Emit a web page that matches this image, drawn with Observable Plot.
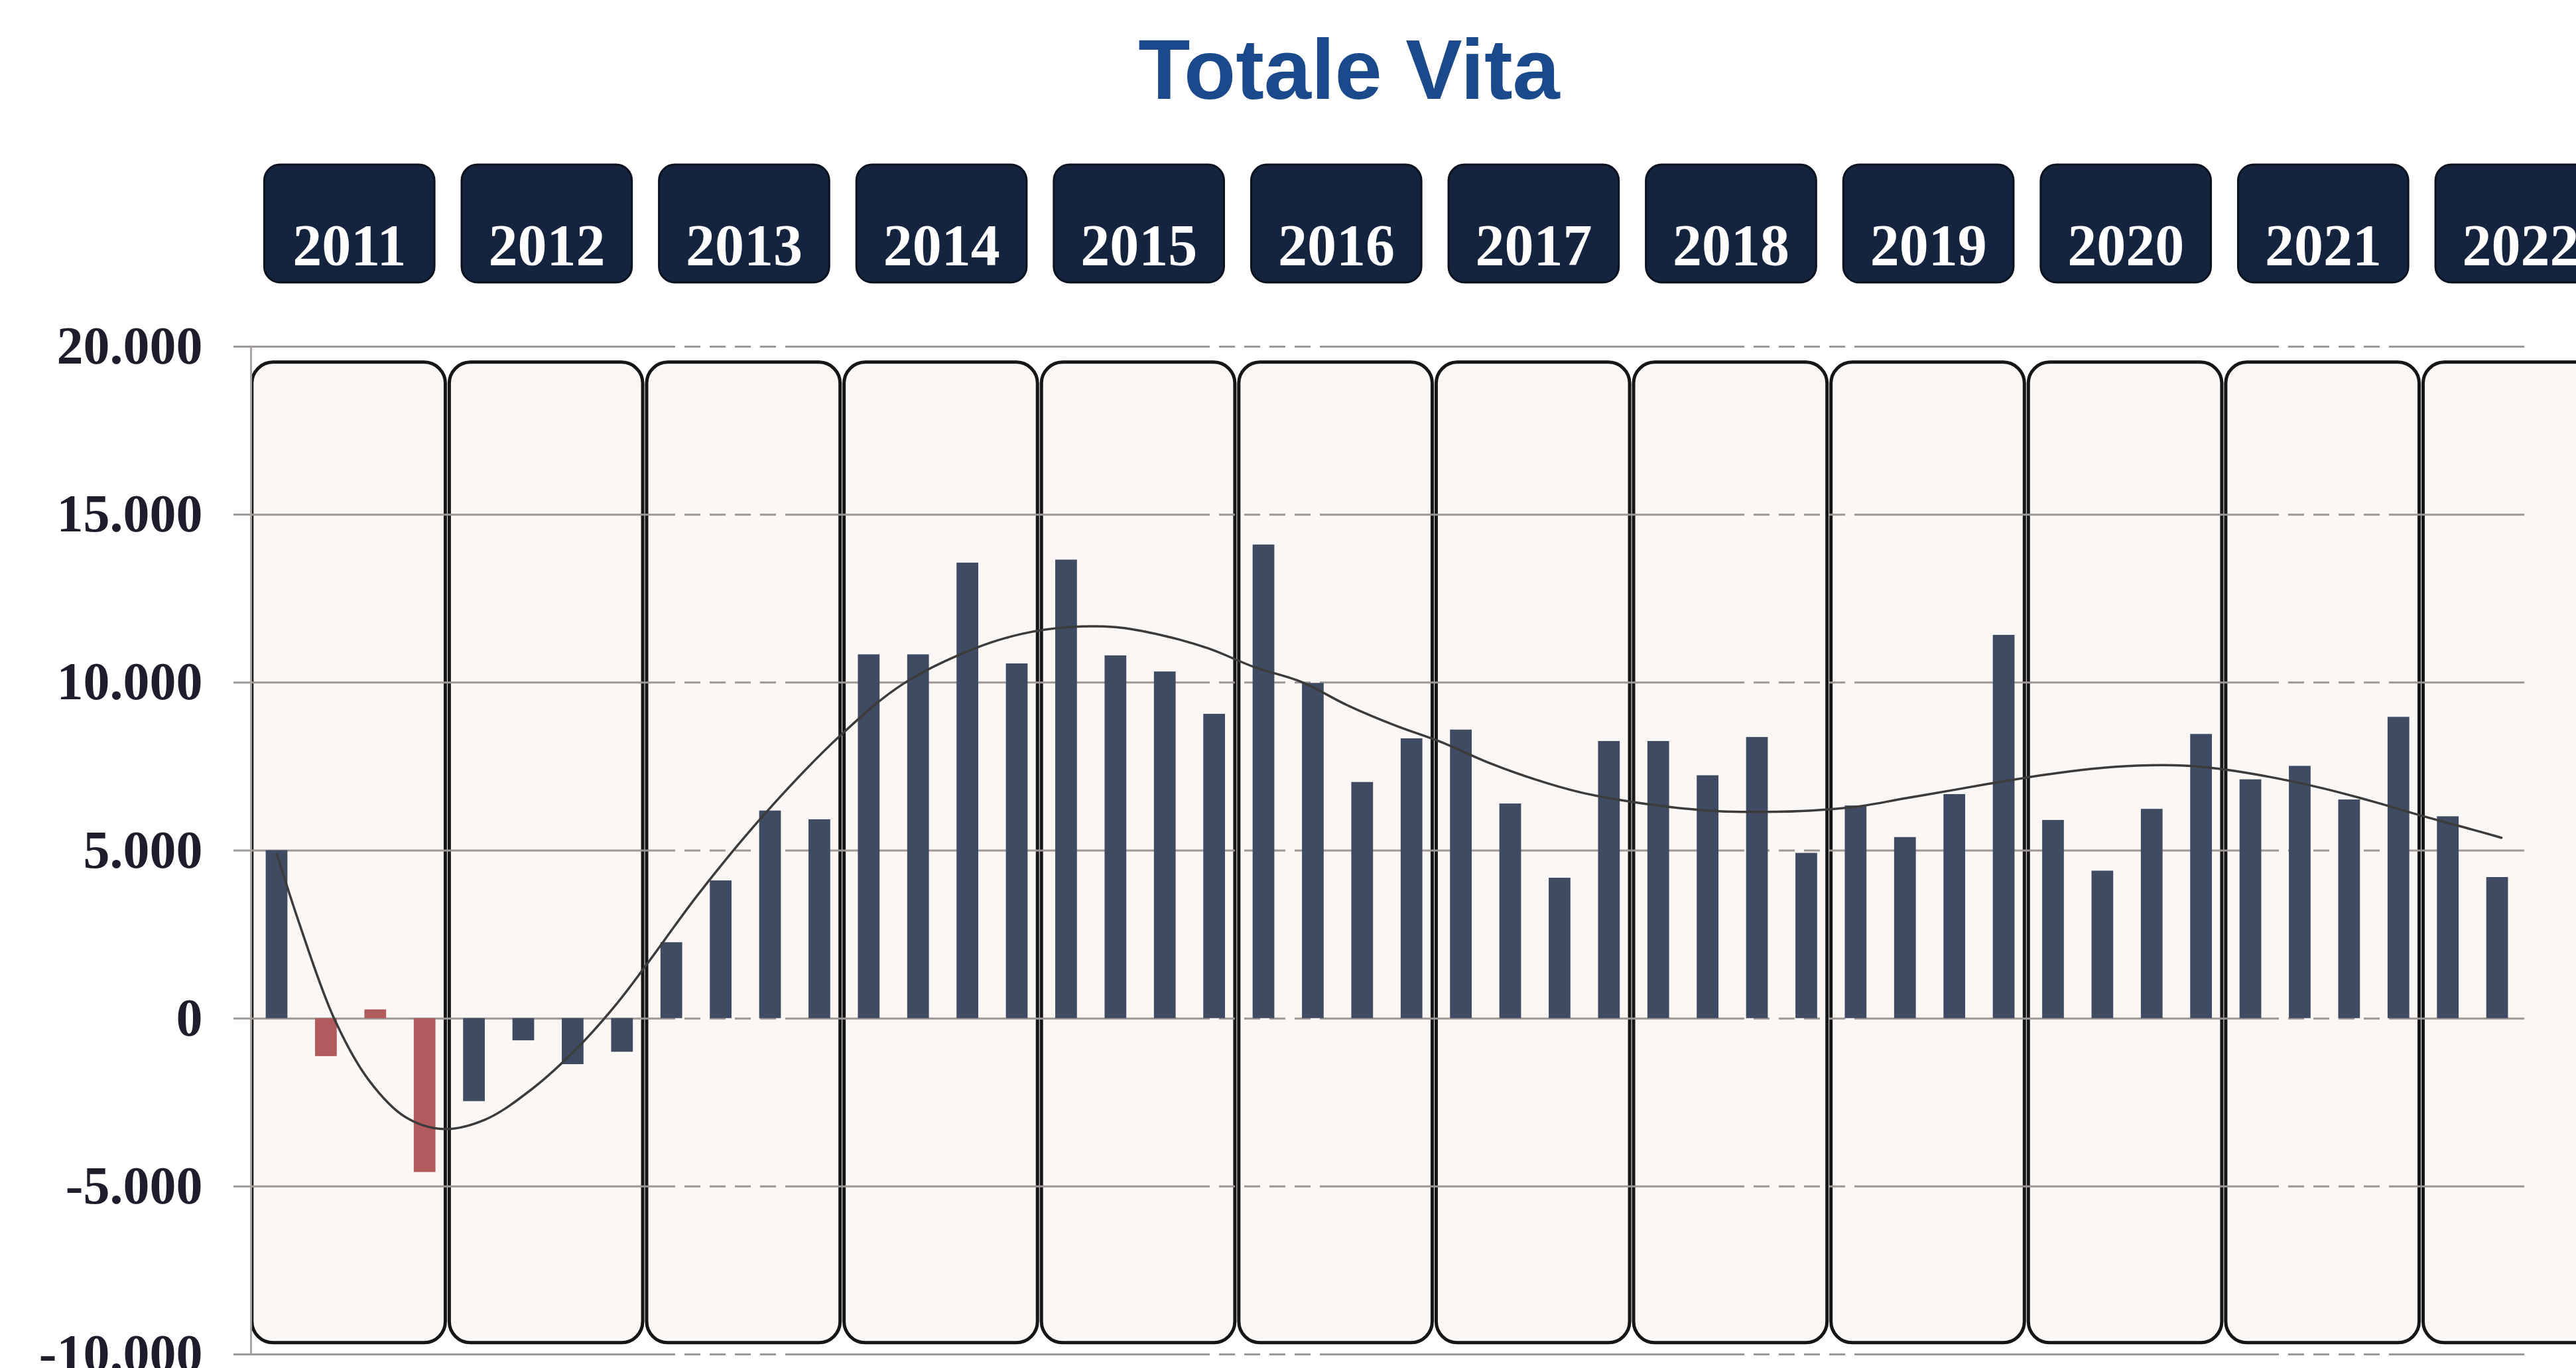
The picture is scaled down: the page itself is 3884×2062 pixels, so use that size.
<!DOCTYPE html>
<html><head><meta charset="utf-8">
<script src="https://cdn.jsdelivr.net/npm/d3@7"></script>
<script src="https://cdn.jsdelivr.net/npm/@observablehq/plot@0.6"></script>
<style>
html,body{margin:0;padding:0;background:#fff;overflow:hidden;}
#title{height:210px;line-height:210px;font-family:"Liberation Sans",Arial,sans-serif;font-weight:bold;font-size:128px;color:#1B4A8C;text-align:center;padding-left:184px;box-sizing:border-box;width:3884px;}
</style></head><body>
<div id="title">Totale Vita</div>
<div id="chart"></div>
<script>
// ---- data ----
const years = [2011, 2012, 2013, 2014, 2015, 2016, 2017, 2018, 2019, 2020, 2021, 2022];
const quarterValues = [
  5000, -1130, 260, -4580,
  -2470, -660, -1370, -1000,
  2260, 4100, 6180, 5920,
  10830, 10830, 13560, 10560,
  13650, 10800, 10320, 9060,
  14100, 9980, 7030, 8330,
  8590, 6390, 4180, 8250,
  8250, 7230, 8370, 4920,
  6330, 5390, 6670, 11410,
  5900, 4390, 6230, 8460,
  7110, 7510, 6510, 8970,
  6010, 4200
];
const redBars = ["2011-Q2", "2011-Q3", "2011-Q4"];
// trend curve: position in quarter index, value
const trendPos = [0, 0.44, 1.16, 1.86, 2.61, 3.37, 4.22, 5.16, 6.10, 6.86, 7.51, 8.55, 9.88, 11.43, 12.70, 14.15, 15.10, 16.04, 16.99, 17.93, 18.87, 19.81, 20.76, 21.70, 22.65, 23.59, 24.53, 25.47, 26.42, 27.36, 28.27, 29.21, 30.15, 31.10, 32.04, 32.98, 33.93, 34.87, 35.81, 36.76, 37.70, 38.64, 39.58, 40.53, 41.47, 42.5, 43.5, 44.5, 45.08];
const trendVal = [4900, 2890, 0, -1830, -2940, -3290, -3010, -2110, -860, 390, 1640, 3720, 6080, 8440, 9970, 11020, 11450, 11650, 11650, 11410, 11020, 10460, 10020, 9320, 8730, 8230, 7630, 7130, 6730, 6470, 6290, 6170, 6150, 6190, 6310, 6550, 6790, 7030, 7250, 7430, 7530, 7530, 7390, 7150, 6850, 6450, 6020, 5620, 5380];
const yTicks = [-10000, -5000, 0, 5000, 10000, 15000, 20000];

// ---- build tables ----
const rows = quarterValues.map((v, i) => {
  const year = years[Math.floor(i / 4)];
  const q = (i % 4) + 1;
  return {i, year, q, v, key: `${year}-Q${q}`};
});
const trend = trendPos.map((x, k) => ({x, y: trendVal[k]}));
const yearCells = years.map((year, k) => ({year, k}));

const fmt = d3.formatLocale({decimal: ",", thousands: ".", grouping: [3], currency: ["€", ""], minus: "-"}).format(",.0f");

const xDomain = [-0.524, 45.55];
const gridColor = "#9D9896";

const chart = Plot.plot({
  width: 3884,
  height: 1852,
  marginLeft: 378,
  marginRight: 78,
  marginTop: 312,
  marginBottom: 21,
  style: {background: "transparent"},
  x: {domain: xDomain, axis: null},
  y: {domain: [-10000, 20000]},
  marks: [
    // year panels
    Plot.rect(yearCells, {
      x1: d => 4 * d.k - 0.5, x2: d => 4 * d.k + 3.42,
      y1: -9660, y2: 19530,
      fill: "#FBF7F4", stroke: "#161616", strokeWidth: 5, rx: 32
    }),
    Plot.gridY(yTicks, {stroke: gridColor, strokeOpacity: 1, strokeWidth: 3,
      strokeDasharray: "640,14,24,14,24,14,24,14,24,14"}),
    Plot.axisY(yTicks, {
      tickSize: 26, tickPadding: 47, tickFormat: fmt, label: null,
      stroke: gridColor, strokeWidth: 3,
      fill: "#1d1d2b", fontSize: 80, fontWeight: "bold", fontFamily: "Liberation Serif, serif"
    }),
    Plot.ruleX([xDomain[0]], {stroke: "#A8A4A2", strokeWidth: 3}),
    Plot.rectY(rows, {
      x1: d => d.i - 0.22, x2: d => d.i + 0.22,
      y1: 0, y2: "v",
      fill: d => redBars.includes(d.key) ? "#B25B5D" : "#3F4B63"
    }),
    Plot.line(trend, {x: "x", y: "y", curve: "catmull-rom", stroke: "#3b3b3b", strokeWidth: 3.5}),
    // year header boxes
    Plot.rect(yearCells, {
      x1: d => 4 * d.k - 0.25, x2: d => 4 * d.k + 3.2,
      y1: 21900, y2: 25410,
      fill: "#14243E", stroke: "#0b1220", strokeWidth: 3, rx: 24
    }),
    Plot.text(yearCells, {
      x: d => 4 * d.k + 1.47, y: 23000, text: d => String(d.year),
      fill: "white", fontSize: 88, fontWeight: "bold", fontFamily: "Liberation Serif, serif"
    })
  ]
});
document.getElementById("chart").appendChild(chart);
</script></body></html>
